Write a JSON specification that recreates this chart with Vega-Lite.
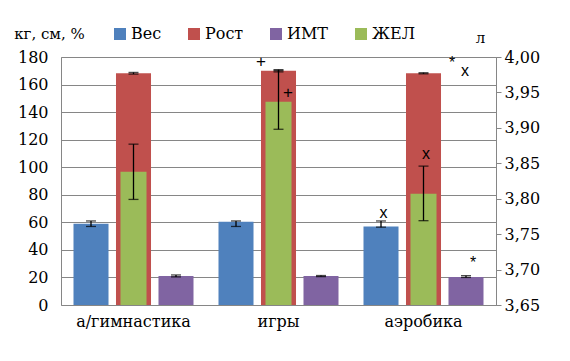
{
  "$schema": "https://vega.github.io/schema/vega-lite/v6.json",
  "autosize": "none",
  "width": 435,
  "height": 248,
  "padding": {"left": 61, "top": 57, "right": 74, "bottom": 56},
  "background": "white",
  "datasets": {
    "main": [
      {"cat": "а/гимнастика", "series": "Вес", "value": 59, "low": 57, "high": 61},
      {"cat": "а/гимнастика", "series": "Рост", "value": 168.2, "low": 167.6, "high": 168.8},
      {"cat": "а/гимнастика", "series": "ИМТ", "value": 21, "low": 20.4, "high": 21.8},
      {"cat": "игры", "series": "Вес", "value": 60.5, "low": 57, "high": 61},
      {"cat": "игры", "series": "Рост", "value": 170, "low": 169.2, "high": 170.8},
      {"cat": "игры", "series": "ИМТ", "value": 21, "low": 20.6, "high": 21.4},
      {"cat": "аэробика", "series": "Вес", "value": 57, "low": 56.5, "high": 61},
      {"cat": "аэробика", "series": "Рост", "value": 168.2, "low": 167.8, "high": 168.6},
      {"cat": "аэробика", "series": "ИМТ", "value": 20.3, "low": 20, "high": 21.3}
    ],
    "zhel": [
      {"cat": "а/гимнастика", "series": "ЖЕЛ", "value": 3.838, "low": 3.799, "high": 3.877},
      {"cat": "игры", "series": "ЖЕЛ", "value": 3.937, "low": 3.898, "high": 3.981},
      {"cat": "аэробика", "series": "ЖЕЛ", "value": 3.807, "low": 3.769, "high": 3.846}
    ],
    "notes": [
      {"id": "n1", "cat": "игры", "series": "Рост", "label": "+", "pos": 176.4},
      {"id": "n2", "cat": "игры", "series": "Рост", "label": "+", "pos": 153.9},
      {"id": "n3", "cat": "аэробика", "series": "Вес", "label": "x", "pos": 66.8},
      {"id": "n4", "cat": "аэробика", "series": "Рост", "label": "x", "pos": 109.6},
      {"id": "n5", "cat": "аэробика", "series": "ИМТ", "label": "*", "pos": 175.6},
      {"id": "n6", "cat": "аэробика", "series": "ИМТ", "label": "x", "pos": 169.8},
      {"id": "n7", "cat": "аэробика", "series": "ИМТ", "label": "*", "pos": 30.5}
    ]
  },
  "layer": [
    {
      "layer": [
        {
          "data": {"name": "main"},
          "mark": {"type": "bar"},
          "encoding": {
            "x": {"field": "cat", "type": "nominal", "sort": ["а/гимнастика", "игры", "аэробика"], "scale": {"paddingInner": 0, "paddingOuter": 0}, "axis": {"title": null, "labelAngle": 0, "ticks": false, "labelPadding": 8, "domain": false}},
            "xOffset": {"field": "series", "type": "nominal", "scale": {"domain": ["Вес", "Рост", "ИМТ"], "paddingInner": 0.176, "paddingOuter": 0.294}},
            "y": {"field": "value", "type": "quantitative", "scale": {"domain": [0, 180], "nice": false}, "axis": {"values": [0, 20, 40, 60, 80, 100, 120, 140, 160, 180], "tickCount": 10, "labelOverlap": false, "labelSeparation": 0, "title": "кг, см, %", "titleAngle": 0, "titleAlign": "center", "titleBaseline": "middle", "titleX": -12, "titleY": -24, "ticks": false, "labelPadding": 13, "grid": true, "domain": false}},
            "color": {"field": "series", "type": "nominal", "scale": {"domain": ["Вес", "Рост", "ИМТ", "ЖЕЛ"], "range": ["#4F81BD", "#C0504D", "#8064A2", "#9BBB59"]}, "legend": {"title": null, "orient": "none", "legendX": 51, "legendY": -31, "direction": "horizontal", "symbolType": "square", "symbolSize": 144, "symbolStrokeWidth": 0, "columnPadding": 24, "labelFontSize": 16, "labelOffset": 3}}
          }
        },
        {
          "data": {"name": "main"},
          "mark": {"type": "rule", "color": "black", "strokeWidth": 1.3},
          "encoding": {
            "x": {"field": "cat", "type": "nominal", "sort": ["а/гимнастика", "игры", "аэробика"]},
            "xOffset": {"field": "series", "type": "nominal"},
            "y": {"field": "low", "type": "quantitative"},
            "y2": {"field": "high"}
          }
        },
        {
          "data": {"name": "main"},
          "mark": {"type": "tick", "color": "black", "thickness": 1.3, "size": 10},
          "encoding": {
            "x": {"field": "cat", "type": "nominal", "sort": ["а/гимнастика", "игры", "аэробика"]},
            "xOffset": {"field": "series", "type": "nominal"},
            "y": {"field": "low", "type": "quantitative"}
          }
        },
        {
          "data": {"name": "main"},
          "mark": {"type": "tick", "color": "black", "thickness": 1.3, "size": 10},
          "encoding": {
            "x": {"field": "cat", "type": "nominal", "sort": ["а/гимнастика", "игры", "аэробика"]},
            "xOffset": {"field": "series", "type": "nominal"},
            "y": {"field": "high", "type": "quantitative"}
          }
        },
        {
          "data": {"name": "notes"},
          "transform": [{"filter": "datum.id === 'n1'"}],
          "mark": {"type": "text", "fontSize": 17, "font": "Liberation Sans", "dx": -17.5, "baseline": "middle"},
          "encoding": {
            "x": {"field": "cat", "type": "nominal", "sort": ["а/гимнастика", "игры", "аэробика"]},
            "xOffset": {"field": "series", "type": "nominal"},
            "y": {"field": "pos", "type": "quantitative"},
            "text": {"field": "label"}
          }
        },
        {
          "data": {"name": "notes"},
          "transform": [{"filter": "datum.id === 'n2'"}],
          "mark": {"type": "text", "fontSize": 17, "font": "Liberation Sans", "dx": 9.5, "baseline": "middle"},
          "encoding": {
            "x": {"field": "cat", "type": "nominal", "sort": ["а/гимнастика", "игры", "аэробика"]},
            "xOffset": {"field": "series", "type": "nominal"},
            "y": {"field": "pos", "type": "quantitative"},
            "text": {"field": "label"}
          }
        },
        {
          "data": {"name": "notes"},
          "transform": [{"filter": "datum.id === 'n3' || datum.id === 'n4'"}],
          "mark": {"type": "text", "fontSize": 16, "font": "Liberation Sans", "dx": 2.5, "baseline": "middle"},
          "encoding": {
            "x": {"field": "cat", "type": "nominal", "sort": ["а/гимнастика", "игры", "аэробика"]},
            "xOffset": {"field": "series", "type": "nominal"},
            "y": {"field": "pos", "type": "quantitative"},
            "text": {"field": "label"}
          }
        },
        {
          "data": {"name": "notes"},
          "transform": [{"filter": "datum.id === 'n5'"}],
          "mark": {"type": "text", "fontSize": 16, "font": "Liberation Sans", "dx": -14, "baseline": "middle"},
          "encoding": {
            "x": {"field": "cat", "type": "nominal", "sort": ["а/гимнастика", "игры", "аэробика"]},
            "xOffset": {"field": "series", "type": "nominal"},
            "y": {"field": "pos", "type": "quantitative"},
            "text": {"field": "label"}
          }
        },
        {
          "data": {"name": "notes"},
          "transform": [{"filter": "datum.id === 'n6'"}],
          "mark": {"type": "text", "fontSize": 16, "font": "Liberation Sans", "dx": -1, "baseline": "middle"},
          "encoding": {
            "x": {"field": "cat", "type": "nominal", "sort": ["а/гимнастика", "игры", "аэробика"]},
            "xOffset": {"field": "series", "type": "nominal"},
            "y": {"field": "pos", "type": "quantitative"},
            "text": {"field": "label"}
          }
        },
        {
          "data": {"name": "notes"},
          "transform": [{"filter": "datum.id === 'n7'"}],
          "mark": {"type": "text", "fontSize": 16, "font": "Liberation Sans", "dx": 7, "baseline": "middle"},
          "encoding": {
            "x": {"field": "cat", "type": "nominal", "sort": ["а/гимнастика", "игры", "аэробика"]},
            "xOffset": {"field": "series", "type": "nominal"},
            "y": {"field": "pos", "type": "quantitative"},
            "text": {"field": "label"}
          }
        }
      ]
    },
    {
      "layer": [
        {
          "data": {"name": "zhel"},
          "mark": {"type": "bar", "size": 26},
          "encoding": {
            "x": {"field": "cat", "type": "nominal", "sort": ["а/гимнастика", "игры", "аэробика"]},
            "y": {"field": "value", "type": "quantitative", "scale": {"domain": [3.65, 4.0], "nice": false, "zero": false}, "axis": {"orient": "right", "values": [3.65, 3.7, 3.75, 3.8, 3.85, 3.9, 3.95, 4.0], "tickCount": 8, "labelOverlap": false, "labelSeparation": 0, "labelExpr": "replace(format(datum.value, '.2f'), '.', ',')", "title": "л", "titleAngle": 0, "titleAlign": "center", "titleBaseline": "middle", "titleX": -16, "titleY": -20, "grid": false, "ticks": true, "tickSize": 5, "labelPadding": 3, "domain": true}},
            "y2": {"datum": 3.65},
            "color": {"field": "series", "type": "nominal"}
          }
        },
        {
          "data": {"name": "zhel"},
          "mark": {"type": "rule", "color": "black", "strokeWidth": 1.3},
          "encoding": {
            "x": {"field": "cat", "type": "nominal", "sort": ["а/гимнастика", "игры", "аэробика"]},
            "y": {"field": "low", "type": "quantitative"},
            "y2": {"field": "high"}
          }
        },
        {
          "data": {"name": "zhel"},
          "mark": {"type": "tick", "color": "black", "thickness": 1.3, "size": 10},
          "encoding": {
            "x": {"field": "cat", "type": "nominal", "sort": ["а/гимнастика", "игры", "аэробика"]},
            "y": {"field": "low", "type": "quantitative"}
          }
        },
        {
          "data": {"name": "zhel"},
          "mark": {"type": "tick", "color": "black", "thickness": 1.3, "size": 10},
          "encoding": {
            "x": {"field": "cat", "type": "nominal", "sort": ["а/гимнастика", "игры", "аэробика"]},
            "y": {"field": "high", "type": "quantitative"}
          }
        }
      ]
    }
  ],
  "resolve": {"scale": {"y": "independent"}},
  "config": {
    "font": "DejaVu Serif",
    "view": {"stroke": "#868686", "strokeWidth": 1},
    "axis": {"labelFont": "DejaVu Serif", "labelFontSize": 16, "labelColor": "black", "labelOverlap": false, "titleFont": "DejaVu Serif", "titleFontSize": 15, "titleFontWeight": "normal", "titleColor": "black", "gridColor": "#868686", "gridOpacity": 1, "domainColor": "#868686", "tickColor": "#868686"},
    "axisY": {"labelOverlap": false},
    "legend": {"labelColor": "black", "labelFont": "DejaVu Serif"}
  }
}
